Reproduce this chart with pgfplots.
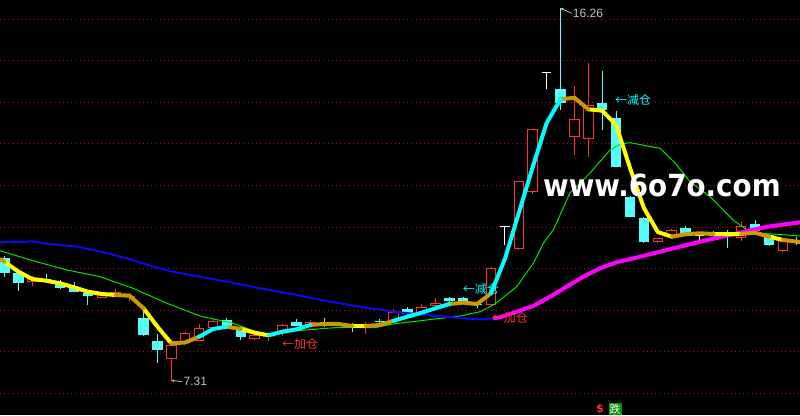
\documentclass[border=0pt]{standalone}
\usepackage{fontspec}
\usepackage{pgfplots}
\usepackage{pgfplotstable}
\pgfplotsset{compat=1.18}
\usetikzlibrary{arrows.meta}
\newfontfamily\cjk{Noto Sans CJK SC}
\newfontfamily\lib{Liberation Sans}
\newfontfamily\dv{DejaVu Sans}
\definecolor{cred}{RGB}{255,50,50}
\definecolor{ccyan}{RGB}{84,252,252}
\definecolor{mayel}{RGB}{255,255,0}
\definecolor{magold}{RGB}{204,153,0}
\definecolor{macyan}{RGB}{0,255,255}
\definecolor{mablue}{RGB}{10,10,240}
\definecolor{magreen}{RGB}{0,230,0}
\definecolor{mamag}{RGB}{255,0,255}
\definecolor{gridred}{RGB}{200,0,0}
\definecolor{lgray}{RGB}{192,192,192}
\definecolor{sgreen}{RGB}{0,150,0}

\pgfplotstableread{
i o h l c
2 9.685 9.822 9.582 9.781
7 9.301 9.438 9.294 9.406
8 9.366 9.510 9.342 9.445
9 9.318 9.414 9.229 9.342
12 7.835 8.188 7.31 8.164
13 8.204 8.476 8.188 8.445
14 8.267 8.668 8.260 8.565
15 8.579 8.789 8.572 8.741
18 8.301 8.524 8.284 8.404
19 8.356 8.476 8.267 8.416
20 8.469 8.668 8.387 8.645
22 8.661 8.753 8.645 8.724
24 8.645 8.717 8.620 8.681
26 8.565 8.709 8.421 8.645
28 8.748 9.029 8.717 8.964
30 8.926 9.149 8.909 9.084
31 9.101 9.286 9.089 9.166
35 9.125 10.027 9.101 10.007
37 10.470 12.110 10.450 12.110
38 11.830 13.360 11.800 13.360
41 13.157 14.390 12.731 13.596
42 13.109 14.950 12.690 13.926
47 10.633 10.736 10.616 10.729
48 10.808 10.952 10.796 10.928
53 10.729 11.113 10.664 11.024
56 10.416 10.736 10.399 10.705
}\redtab

\pgfplotstableread{
i o h l c
0 10.248 10.303 9.805 9.902
1 9.902 9.943 9.469 9.661
3 9.750 9.870 9.654 9.702
4 9.647 9.726 9.520 9.541
5 9.565 9.685 9.426 9.445
6 9.406 9.414 9.125 9.349
10 8.820 9.005 8.380 8.404
11 8.260 8.421 7.738 8.044
16 8.765 8.806 8.584 8.604
17 8.589 8.620 8.284 8.363
21 8.724 8.789 8.620 8.628
23 8.693 8.813 8.604 8.678
25 8.669 8.693 8.469 8.604
27 8.729 8.789 8.645 8.717
29 9.022 9.070 8.885 8.902
32 9.286 9.325 9.166 9.228
33 9.301 9.318 9.173 9.190
34 9.157 9.205 9.046 9.142
40 14.310 16.260 13.813 13.990
43 13.974 14.757 13.332 13.813
44 13.613 13.789 12.443 12.450
45 11.721 11.745 11.229 11.248
46 11.217 11.229 10.616 10.647
49 10.983 11.031 10.784 10.808
51 10.856 10.904 10.760 10.808
52 10.887 10.928 10.496 10.808
54 11.072 11.168 10.904 10.911
55 10.808 10.832 10.544 10.568
57 10.688 10.767 10.568 10.616
}\cyantab

\pgfplotstableread{
i o h l c
36 11.008 11.008 10.568 11.008
39 14.720 14.720 14.318 14.720
50 10.784 10.784 10.647 10.784
}\whitetab

\pgfplotstableread{
i v
-0.324 10.224
0 10.166
1 9.926
2 9.750
3 9.709
4 9.647
5 9.551
6 9.445
7 9.390
8 9.366
9 9.349
10 9.046
11 8.604
12 8.204
13 8.224
14 8.363
15 8.548
16 8.604
17 8.548
18 8.459
19 8.397
20 8.483
21 8.541
22 8.645
23 8.669
24 8.669
25 8.620
26 8.620
27 8.645
28 8.748
29 8.844
30 8.940
31 9.046
32 9.149
33 9.181
34 9.149
35 9.406
36 10.231
37 11.337
38 12.443
39 13.500
40 14.070
41 14.108
42 13.830
43 13.796
44 13.452
45 12.420
46 11.457
47 10.880
48 10.767
49 10.825
50 10.849
51 10.832
52 10.825
53 10.832
54 10.863
55 10.767
56 10.688
57 10.647
57.23 10.640
}\matab

\pgfplotsset{
  ma/.style={line width=4pt, line join=round, line cap=round, forget plot, mark=none},
}

\begin{document}
\begin{tikzpicture}[trim axis left, trim axis right]
\begin{axis}[
  scale only axis, width=800pt, height=415pt,
  xmin=-0.324, xmax=57.23, ymin=6.481, ymax=16.457,
  axis background/.style={fill=black},
  axis line style={draw=none},
  xtick=\empty, ytick={7,...,16}, yticklabels={}, major tick length=0pt,
  ymajorgrids, grid style={draw=gridred, line width=1pt, dash pattern=on 1pt off 3.2pt},
  clip=true,
]
% red (rising) candles: wick, hollow body
\addplot[cred, line width=1pt, mark=none, forget plot, quiver={u=0, v=\thisrow{h}-\thisrow{l}}] table[x=i, y=l] {\redtab};
\addplot[cred, line width=10.5pt, mark=none, forget plot, quiver={u=0, v=\thisrow{c}-\thisrow{o}}] table[x=i, y=o] {\redtab};
\addplot[black, line width=8.5pt, mark=none, forget plot, quiver={u=0, v={max(\thisrow{c}-\thisrow{o}-0.048,0)}}] table[x=i, y expr={\thisrow{o}+0.024}] {\redtab};
% cyan (falling) candles: wick, filled body
\addplot[ccyan, line width=1pt, mark=none, forget plot, quiver={u=0, v=\thisrow{h}-\thisrow{l}}] table[x=i, y=l] {\cyantab};
\addplot[ccyan, line width=10.5pt, mark=none, forget plot, quiver={u=0, v=\thisrow{o}-\thisrow{c}}] table[x=i, y=c] {\cyantab};
% white T candles
\addplot[white, line width=1pt, mark=none, forget plot, quiver={u=0, v=\thisrow{h}-\thisrow{l}}] table[x=i, y=l] {\whitetab};
\addplot[white, line width=1pt, mark=none, forget plot, quiver={u=0.68, v=0}] table[x expr={\thisrow{i}-0.34}, y=c] {\whitetab};

% green thin line
\addplot[magreen, line width=1pt, mark=none] coordinates {
(-0.324,10.431) (2.050,10.190) (4.496,9.966) (6.871,9.806) (9.245,9.527) (11.691,9.166)
(14.065,8.861) (16.439,8.685) (18.6,8.42) (19.10,8.41) (20.75,8.493) (22.48,8.548)
(24.14,8.589) (26.65,8.58) (27.95,8.669) (30.374,8.765) (32.770,8.861) (34.209,8.964)
(35.165,9.125) (35.647,9.245) (36.849,9.565) (38.043,10.128) (38.763,10.608) (39.482,10.928)
(40.68,11.818) (42.12,12.298) (43.56,12.851) (44.28,12.99) (45.0,13.027) (47.16,12.892)
(48.24,12.539) (49.32,12.089) (50.76,11.729) (52.41,11.17) (53.42,10.928) (54.35,10.849)
(56.29,10.808) (57.23,10.784)};
% blue long line
\addplot[mablue, line width=2pt, mark=none] coordinates {
(-0.324,10.632) (1.475,10.647) (2.05,10.656) (2.770,10.608) (3.993,10.568) (5.216,10.527)
(6.367,10.447) (7.590,10.351) (9.245,10.207) (10.683,10.046) (12.122,9.926) (14.065,9.805)
(16.007,9.685) (18.381,9.527) (20.777,9.382) (23.180,9.221) (25.576,9.084) (27.971,8.964)
(30.374,8.885) (32.770,8.813) (34.209,8.781) (35.165,8.805)};
% magenta rising part
\addplot[mamag, line width=4pt, mark=none, line join=round] coordinates {
(35.165,8.805) (35.647,8.829) (36.849,8.964) (38.043,9.101) (39.245,9.325) (40.446,9.565)
(41.640,9.806) (42.842,10.007) (44.043,10.152) (45.719,10.286) (47.662,10.448)
(50.036,10.647) (52.410,10.825) (54.856,11.007) (57.230,11.113)};

% thick short line, coloured by run
\pgfplotsinvokeforeach{-0.01:8.01, 9.99:12.01, 16.99:19.01, 24.99:26.01, 41.99:48.01, 50.99:53.01, 54.99:56.01}{
  \addplot[mayel, ma, restrict x to domain=#1] table[x=i, y=v] {\matab};
}
\pgfplotsinvokeforeach{-1:0.01, 7.99:10.01, 11.99:14.01, 15.99:17.01, 21.99:25.01, 25.99:28.01, 31.99:35.01, 39.99:42.01, 47.99:51.01, 52.99:55.01, 55.99:58}{
  \addplot[magold, ma, restrict x to domain=#1] table[x=i, y=v] {\matab};
}
\pgfplotsinvokeforeach{13.99:16.01, 18.99:22.01, 27.99:32.01, 34.99:40.01}{
  \addplot[macyan, ma, restrict x to domain=#1] table[x=i, y=v] {\matab};
}

% annotations
\draw[lgray, line width=0.8pt, {Stealth[length=3pt,width=3pt]}-] (axis cs:40,16.26) -- ++(11pt,-5pt)
  node[right, inner sep=1pt, font=\lib\fontsize{12}{12}\selectfont, text=lgray] {16.26};
\draw[lgray, line width=0.8pt, {Stealth[length=3pt,width=3pt]}-] (axis cs:12,7.31) -- ++(11pt,-1pt)
  node[right, inner sep=1pt, font=\lib\fontsize{12}{12}\selectfont, text=lgray] {7.31};
\node[anchor=west, inner sep=0pt, text=macyan, font=\cjk\fontsize{12}{12}\selectfont] at (axis cs:43.92,14.05) {←减仓};
\node[anchor=west, inner sep=0pt, text=cred, font=\cjk\fontsize{12}{12}\selectfont] at (axis cs:19.96,8.19) {←加仓};
\node[anchor=west, inner sep=0pt, text=macyan, font=\cjk\fontsize{12}{12}\selectfont] at (axis cs:32.96,9.51) {←减仓};
\node[anchor=west, inner sep=0pt, text=cred, font=\cjk\fontsize{12}{12}\selectfont] at (axis cs:35.05,8.82) {←加仓};
% bottom signals
\node[inner sep=0pt, text=cred, font=\dv\bfseries\fontsize{11}{11}\selectfont] at (axis cs:42.84,6.625) {\$};
\node[inner sep=1pt, fill=sgreen, text=white, font=\cjk\fontsize{11}{11}\selectfont] at (axis cs:43.92,6.625) {跌};
% watermark
\node[anchor=base west, inner sep=0pt, text=white, xscale=0.91, font=\dv\bfseries\fontsize{30.5}{30.5}\selectfont] at (axis cs:38.74,11.728) {www.6o7o.com};
\end{axis}
\end{tikzpicture}
\end{document}
